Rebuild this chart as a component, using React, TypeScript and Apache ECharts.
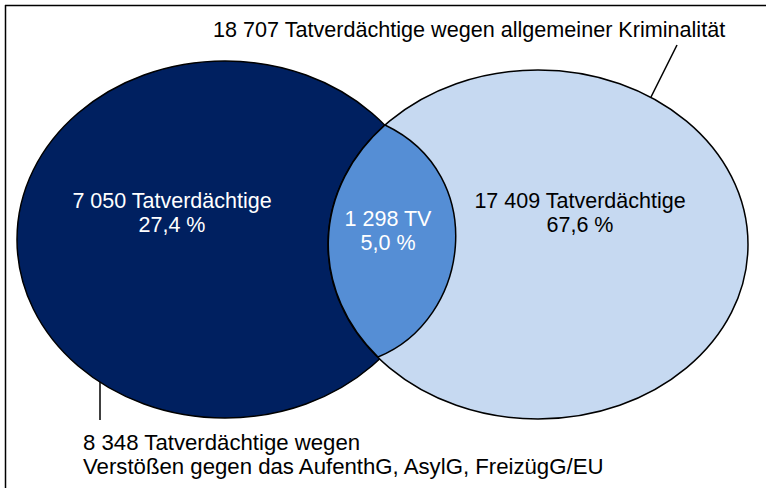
import React, { useEffect, useRef } from "react";
import * as echarts from "echarts";

// Venn regions: only AufenthG etc. / both / only general criminality
const regionCounts: number[] = [7050, 1298, 17409];
const regionShares: number[] = [27.4, 5.0, 67.6];
const regionUnits: string[] = ["Tatverdächtige", "TV", "Tatverdächtige"];
// Set totals: [AufenthG/AsylG/FreizügG/EU, allgemeine Kriminalität]
const setTotals: number[] = [8348, 18707];
const setLabels: string[] = [
  "Tatverdächtige wegen\nVerstößen gegen das AufenthG, AsylG, FreizügG/EU",
  "Tatverdächtige wegen allgemeiner Kriminalität",
];

const fmtInt = (n: number) => String(n).replace(/\B(?=(\d{3})+(?!\d))/g, " ");
const fmtPct = (n: number) => n.toFixed(1).replace(".", ",") + " %";

const FONT = "'Liberation Sans', Arial, sans-serif";

let registered = false;
function registerLens() {
  if (registered) return;
  const d =
    "M385 125 A210 174.5 0 0 0 378 357 C470 320 490 175 385 125 Z";
  echarts.graphic.registerShape("lens", echarts.graphic.extendPath(d, {}) as any);
  registered = true;
}

export default function App() {
  const ref = useRef<HTMLDivElement>(null);
  useEffect(() => {
    if (!ref.current) return;
    registerLens();
    const chart = echarts.init(ref.current, null, { renderer: "svg" });
    const txt = (x: number, y: number, text: string, fill: string, align: string, fs: number) => ({
      type: "text",
      x,
      y,
      silent: true,
      style: {
        text,
        fill,
        font: `${fs}px ${FONT}`,
        fontSize: fs,
        fontFamily: FONT,
        align,
        verticalAlign: "middle",
        lineHeight: 24,
      },
    });
    chart.setOption({
      animation: false,
      backgroundColor: "#ffffff",
      graphic: [
        { type: "line", shape: { x1: 5, y1: 5.5, x2: 780, y2: 5.5 }, style: { stroke: "#000", lineWidth: 1.5 } },
        { type: "line", shape: { x1: 5.5, y1: 5, x2: 5.5, y2: 500 }, style: { stroke: "#000", lineWidth: 1.5 } },
        {
          type: "ellipse",
          shape: { cx: 225, cy: 239.5, rx: 208, ry: 178.5 },
          style: { fill: "#002060", stroke: "#000", lineWidth: 1.5 },
        },
        {
          type: "ellipse",
          shape: { cx: 538, cy: 244.5, rx: 210, ry: 174.5 },
          style: { fill: "#C6D9F1", stroke: "#000", lineWidth: 1.5 },
        },
        {
          type: "lens",
          x: 0,
          y: 0,
          style: { fill: "#558ED5", stroke: "#000", lineWidth: 1.5 },
        },
        { type: "line", shape: { x1: 677, y1: 45, x2: 651, y2: 97 }, style: { stroke: "#000", lineWidth: 1.5 } },
        { type: "line", shape: { x1: 100, y1: 382, x2: 100, y2: 420 }, style: { stroke: "#000", lineWidth: 1.5 } },
        txt(172, 213, `${fmtInt(regionCounts[0])} ${regionUnits[0]}\n${fmtPct(regionShares[0])}`, "#ffffff", "center", 21.5),
        txt(388, 231, `${fmtInt(regionCounts[1])} ${regionUnits[1]}\n${fmtPct(regionShares[1])}`, "#ffffff", "center", 21.5),
        txt(580, 213, `${fmtInt(regionCounts[2])} ${regionUnits[2]}\n${fmtPct(regionShares[2])}`, "#000000", "center", 21.5),
        txt(213, 29, `${fmtInt(setTotals[1])} ${setLabels[1]}`, "#000000", "left", 21.6),
        txt(83, 454, `${fmtInt(setTotals[0])} ${setLabels[0]}`, "#000000", "left", 22.2),
      ],
    });
    return () => chart.dispose();
  }, []);
  return (
    <div
      ref={ref}
      style={{ position: "fixed", left: 0, top: 0, width: 766, height: 488, background: "#fff" }}
    />
  );
}
